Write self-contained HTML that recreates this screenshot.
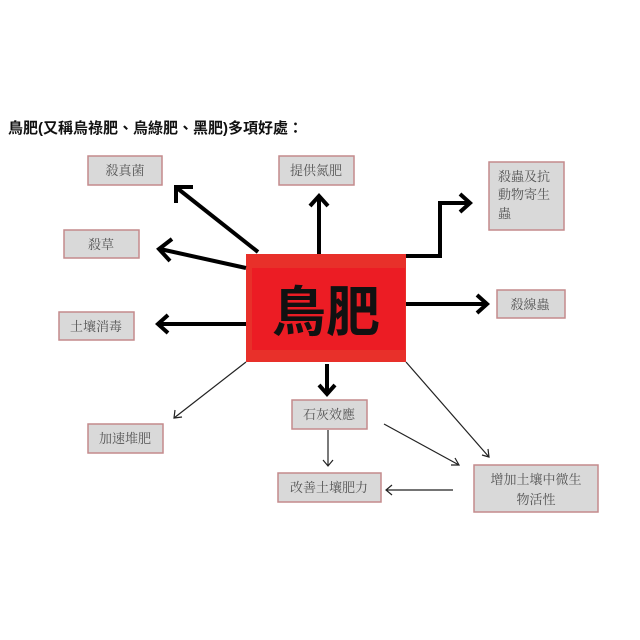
<!DOCTYPE html>
<html><head><meta charset="utf-8"><style>
html,body{margin:0;padding:0;background:#fff;}
svg{display:block;}
</style></head><body>
<svg width="640" height="640" viewBox="0 0 640 640" xmlns="http://www.w3.org/2000/svg">
<rect width="640" height="640" fill="#fff"/>
<text x="8" y="133" font-family="Liberation Sans, Noto Sans CJK TC, sans-serif" font-size="15" font-weight="bold" fill="#111">鳥肥(又稱烏祿肥、烏綠肥、黑肥)多項好處：</text>

<g fill="#d9d9d9" stroke="#c48a8c" stroke-width="1.5">
<rect x="88" y="156" width="74" height="29"/>
<rect x="279" y="156" width="75" height="29"/>
<rect x="489" y="162" width="75" height="68"/>
<rect x="64" y="230" width="75" height="28"/>
<rect x="59" y="312" width="75" height="28"/>
<rect x="497" y="290" width="68" height="28"/>
<rect x="88" y="424" width="75" height="29"/>
<rect x="292" y="400" width="75" height="29"/>
<rect x="278" y="473" width="103" height="29"/>
<rect x="474" y="465" width="124" height="47"/>
</g>
<g font-family="Liberation Serif, Noto Serif CJK SC, serif" font-size="13" fill="#555">
<text x="125" y="175" text-anchor="middle">殺真菌</text>
<text x="316" y="175" text-anchor="middle">提供氮肥</text>
<text x="498" y="181">殺蟲及抗</text>
<text x="498" y="199">動物寄生</text>
<text x="498" y="218">蟲</text>
<text x="101" y="249" text-anchor="middle">殺草</text>
<text x="96" y="331" text-anchor="middle">土壤消毒</text>
<text x="530" y="309" text-anchor="middle">殺線蟲</text>
<text x="125" y="443" text-anchor="middle">加速堆肥</text>
<text x="329" y="419" text-anchor="middle">石灰效應</text>
<text x="329" y="492" text-anchor="middle">改善土壤肥力</text>
<text x="536" y="484" text-anchor="middle">增加土壤中微生</text>
<text x="536" y="504" text-anchor="middle">物活性</text>
</g>

<rect x="246" y="254" width="160" height="108" fill="#e8302a"/>
<rect x="252" y="268" width="153" height="82" fill="#ec1c24"/>
<text x="326" y="331" text-anchor="middle" font-family="Liberation Sans, Noto Sans CJK TC, sans-serif" font-size="54" font-weight="bold" fill="#111">鳥肥</text>

<g stroke="#000" stroke-width="4" fill="none" stroke-linejoin="miter">
<line x1="258" y1="252" x2="177" y2="188"/>
<polyline points="176,203 176,187 193,187"/>
<line x1="246" y1="268" x2="160" y2="249"/>
<polyline points="172,239 159,249 170,261"/>
<line x1="246" y1="324" x2="158" y2="324"/>
<polyline points="168,315 158,324 168,333"/>
<line x1="319" y1="254" x2="319" y2="196"/>
<polyline points="310,206 319,196 328,206"/>
<polyline points="406,256 440,256 440,203 470,203"/>
<polyline points="460,194 470,203 460,212"/>
<line x1="406" y1="304" x2="487" y2="304"/>
<polyline points="477,295 487,304 477,313"/>
<line x1="327" y1="364" x2="327" y2="393"/>
<polyline points="319,385 327,394 335,385"/>
</g>
<g stroke="#222" stroke-width="1.2" fill="none">
<line x1="246" y1="362" x2="174" y2="418"/>
<polyline points="175,410 174,418 182,417"/>
<line x1="406" y1="362" x2="489" y2="457"/>
<polyline points="482,455 489,457 488,449"/>
<line x1="384" y1="424" x2="459" y2="465"/>
<polyline points="451,465 459,465 455,458"/>
<line x1="328" y1="430" x2="328" y2="465"/>
<polyline points="323,460 328,466 333,460"/>
<line x1="453" y1="490" x2="386" y2="490"/>
<polyline points="392,485 386,490 392,495"/>
</g>
</svg>
</body></html>
